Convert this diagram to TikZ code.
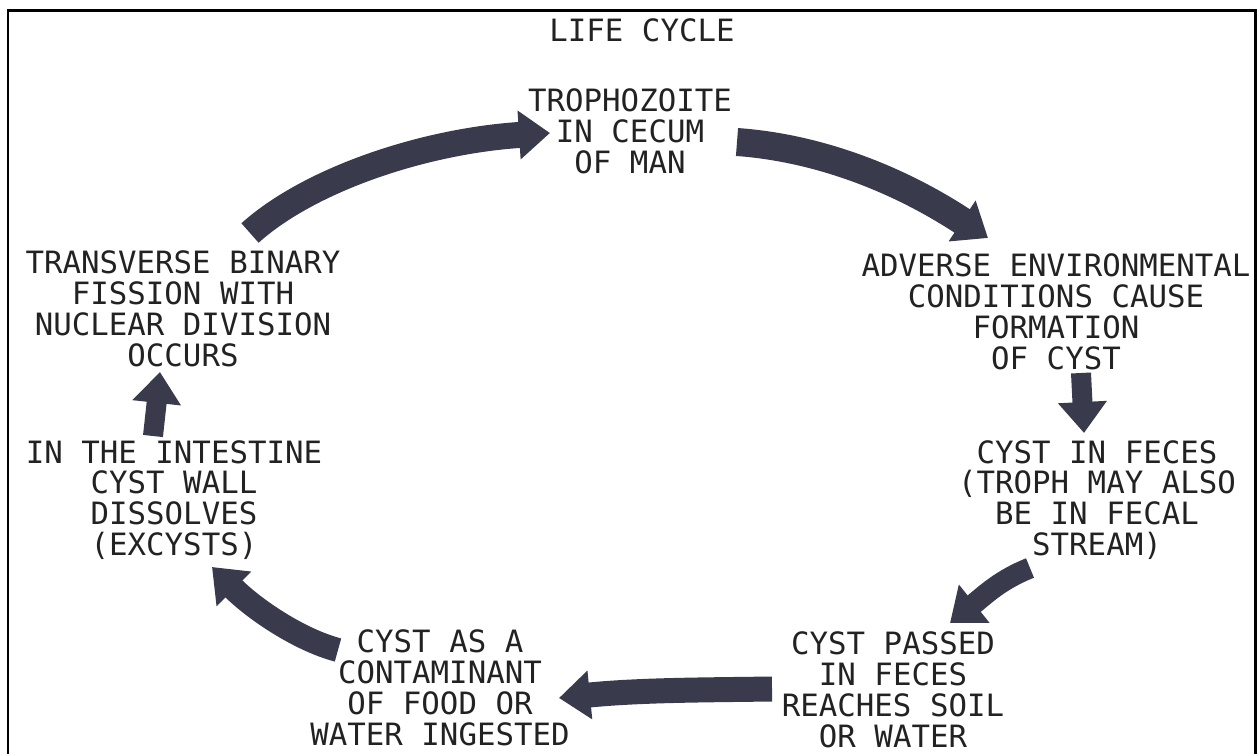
\documentclass[tikz,border=0pt]{standalone}
\usepackage{fontspec}
\newfontfamily\leroy{DejaVu Sans Mono}
\usetikzlibrary{arrows.meta}
\definecolor{ink}{HTML}{393A4C}
\definecolor{txt}{HTML}{222222}

\begin{document}
\begin{tikzpicture}[x=0.02cm, y=-0.02cm,
    stage/.style={align=center, inner sep=0pt, text=txt,
                  font=\leroy\fontsize{17.5pt}{17.6pt}\selectfont},
    bigarrow/.style={draw=ink, line width=#1, -{Triangle[length=0.62cm, width=0.94cm]}},
    bigarrow/.default=0.46cm
]
    \useasboundingbox (0,0) rectangle (1258,754);
    \draw[line width=0.06cm] (8,754) -- (8,10) -- (1255,10) -- (1255,754);

    \node[stage] (titre) at (642,30) {LIFE CYCLE};
    \node[stage] (troph) at (630,131) {TROPHOZOITE\\IN CECUM\\OF MAN};
    \node[stage] (adv)   at (1056,312) {ADVERSE ENVIRONMENTAL\\CONDITIONS CAUSE\\FORMATION\\OF CYST};
    \node[stage] (fec)   at (1097,500) {CYST IN FECES\\(TROPH MAY ALSO\\BE IN FECAL\\STREAM)};
    \node[stage] (pass)  at (893,690) {CYST PASSED\\IN FECES\\REACHES SOIL\\OR WATER};
    \node[stage] (cont)  at (440,688) {CYST AS A\\CONTAMINANT\\OF FOOD OR\\WATER INGESTED};
    \node[stage] (intes) at (174,500) {IN THE INTESTINE\\CYST WALL\\DISSOLVES\\(EXCYSTS)};
    \node[stage] (fiss)  at (183,309) {TRANSVERSE BINARY\\FISSION WITH\\NUCLEAR DIVISION\\OCCURS};

    % the cycle, clockwise from the fission
    \draw[bigarrow=0.52cm] ([shift={(67,-76)}]fiss.center) .. controls +(60,-54) and +(-125,8) .. ([shift={(-80,2)}]troph.center);
    \draw[bigarrow=0.56cm] ([shift={(107,11)}]troph.center) .. controls +(83,6) and +(-88,-58) .. ([shift={(-68,-74)}]adv.center);
    \draw[bigarrow=0.4cm] ([shift={(25,61)}]adv.center) -- ([shift={(-13,-67)}]fec.center);
    \draw[bigarrow=0.42cm] ([shift={(-67,68)}]fec.center) .. controls +(-30,12) and +(35,-28) .. ([shift={(57,-67)}]pass.center);
    \draw[bigarrow=0.5cm] ([shift={(-121,-1)}]pass.center) .. controls +(-72,1) and +(81,-8) .. ([shift={(119,10)}]cont.center);
    \draw[bigarrow=0.48cm] ([shift={(-102,-38)}]cont.center) .. controls +(-38,-10) and +(43,43) .. ([shift={(38,67)}]intes.center);
    \draw[bigarrow=0.4cm] ([shift={(-21,-64)}]intes.center) -- ([shift={(-23,63)}]fiss.center);
\end{tikzpicture}
\end{document}
